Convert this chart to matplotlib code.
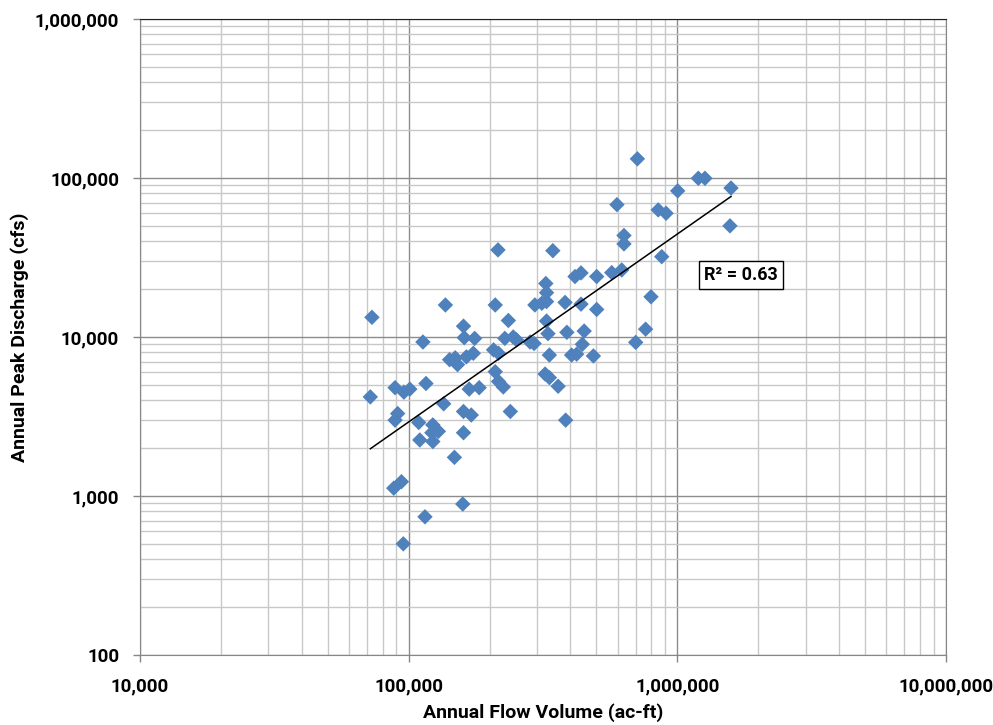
import numpy as np
import matplotlib
matplotlib.use("Agg")
import matplotlib.pyplot as plt
from matplotlib.ticker import LogLocator, FuncFormatter, NullFormatter

# ---- data ----
flow_volume = [
    73000, 72000, 89000, 96000, 101000, 116000, 91000, 89000, 109000, 135000,
    123000, 122000, 129000, 110000, 123000, 160000, 160000, 148000, 94000, 88000,
    159000, 115000, 95500, 137000, 160000, 161000, 113000, 142000, 149000, 152000,
    164000, 168000, 183000, 176000, 210000, 235000, 228000, 245000, 252000, 283000,
    293000, 295000, 313000, 326000, 326000, 382000, 326000, 330000, 388000, 207000,
    216000, 174000, 322000, 334000, 360000, 334000, 210000, 216000, 225000, 239000,
    171000, 438000, 501000, 450000, 443000, 404000, 422000, 487000, 384000, 798000,
    762000, 700000, 710000, 596000, 849000, 908000, 1003000, 633000, 633000, 875000,
    416000, 438000, 501000, 570000, 621000, 1197000, 1267000, 1584000, 1570000, 344000,
    215000, 324000,
]
peak_discharge = [
    13300, 4200, 4800, 4500, 4700, 5100, 3300, 3000, 2900, 3800,
    2800, 2500, 2550, 2250, 2200, 3400, 2500, 1750, 1230, 1120,
    890, 740, 500, 15900, 11700, 9900, 9300, 7200, 7400, 6700,
    7500, 4700, 4800, 9800, 15900, 12700, 9800, 10000, 9600, 9300,
    9100, 15900, 16300, 16700, 19000, 16500, 12600, 10500, 10700, 8300,
    7900, 7900, 5850, 5550, 4900, 7700, 6050, 5250, 4850, 3400,
    3230, 16100, 14900, 10900, 9000, 7700, 7800, 7600, 3000, 17900,
    11200, 9250, 132000, 68000, 63000, 60000, 83000, 43500, 38500, 32000,
    24000, 25300, 24000, 25400, 26400, 99600, 99600, 86500, 50000, 34900,
    35300, 21700,
]
r2_label = "R\u00b2 = 0.63"
x_title = "Annual Flow Volume (ac-ft)"
y_title = "Annual Peak Discharge (cfs)"

plt.rcParams['font.family'] = ['Roboto', 'DejaVu Sans']

fig = plt.figure(figsize=(9.93, 7.25), dpi=100)
ax = fig.add_axes([140/993, 1-655/725, 806/993, 636/725])

x = np.array(flow_volume, dtype=float)
y = np.array(peak_discharge, dtype=float)

ax.set_xscale('log')
ax.set_yscale('log')
ax.set_xlim(1e4, 1e7)
ax.set_ylim(1e2, 1e6)

ax.scatter(x, y, marker='D', s=62, color='#4F81BD', edgecolors='none', zorder=3)

# power trendline (least squares in log space)
b, a = np.polyfit(np.log10(x), np.log10(y), 1)
xt = np.array([x.min(), x.max()])
ax.plot(xt, 10**(a + b*np.log10(xt)), color='black', lw=1.1, zorder=4)

ax.xaxis.set_major_locator(LogLocator(base=10, numticks=10))
ax.yaxis.set_major_locator(LogLocator(base=10, numticks=10))
ax.xaxis.set_minor_locator(LogLocator(base=10, subs=np.arange(2, 10), numticks=100))
ax.yaxis.set_minor_locator(LogLocator(base=10, subs=np.arange(2, 10), numticks=100))
fmt = FuncFormatter(lambda v, p: f"{int(round(v)):,}")
ax.xaxis.set_major_formatter(fmt)
ax.yaxis.set_major_formatter(fmt)
ax.xaxis.set_minor_formatter(NullFormatter())
ax.yaxis.set_minor_formatter(NullFormatter())

ax.grid(True, which='major', color='#8c8c8c', lw=1.0, zorder=0)
ax.grid(True, which='minor', color='#c8c8c8', lw=1.0, zorder=0)
ax.set_axisbelow(True)

ax.tick_params(which='major', direction='out', length=5, width=1, color='#868686',
               labelsize=13.5, pad=4)
ax.tick_params(axis='y', which='major', pad=10)
ax.tick_params(axis='x', which='major', pad=11)
ax.tick_params(which='minor', length=0)
ax.tick_params(top=False, right=False)
for lab in ax.get_xticklabels() + ax.get_yticklabels():
    lab.set_fontweight('bold')

for side in ['left', 'bottom', 'right']:
    ax.spines[side].set_color('#868686')
ax.spines['top'].set_color('#202020')

ax.set_xlabel(x_title, fontsize=14, fontweight='bold', labelpad=6)
ax.set_ylabel(y_title, fontsize=14, fontweight='bold', labelpad=4)

ax.text(0.7457, 0.5975, r2_label, transform=ax.transAxes, fontsize=13,
        fontweight='bold', ha='center', va='center', zorder=5,
        bbox=dict(boxstyle='square,pad=0.3', facecolor='white', edgecolor='black', lw=1))

fig.savefig('out.png', dpi=100)
